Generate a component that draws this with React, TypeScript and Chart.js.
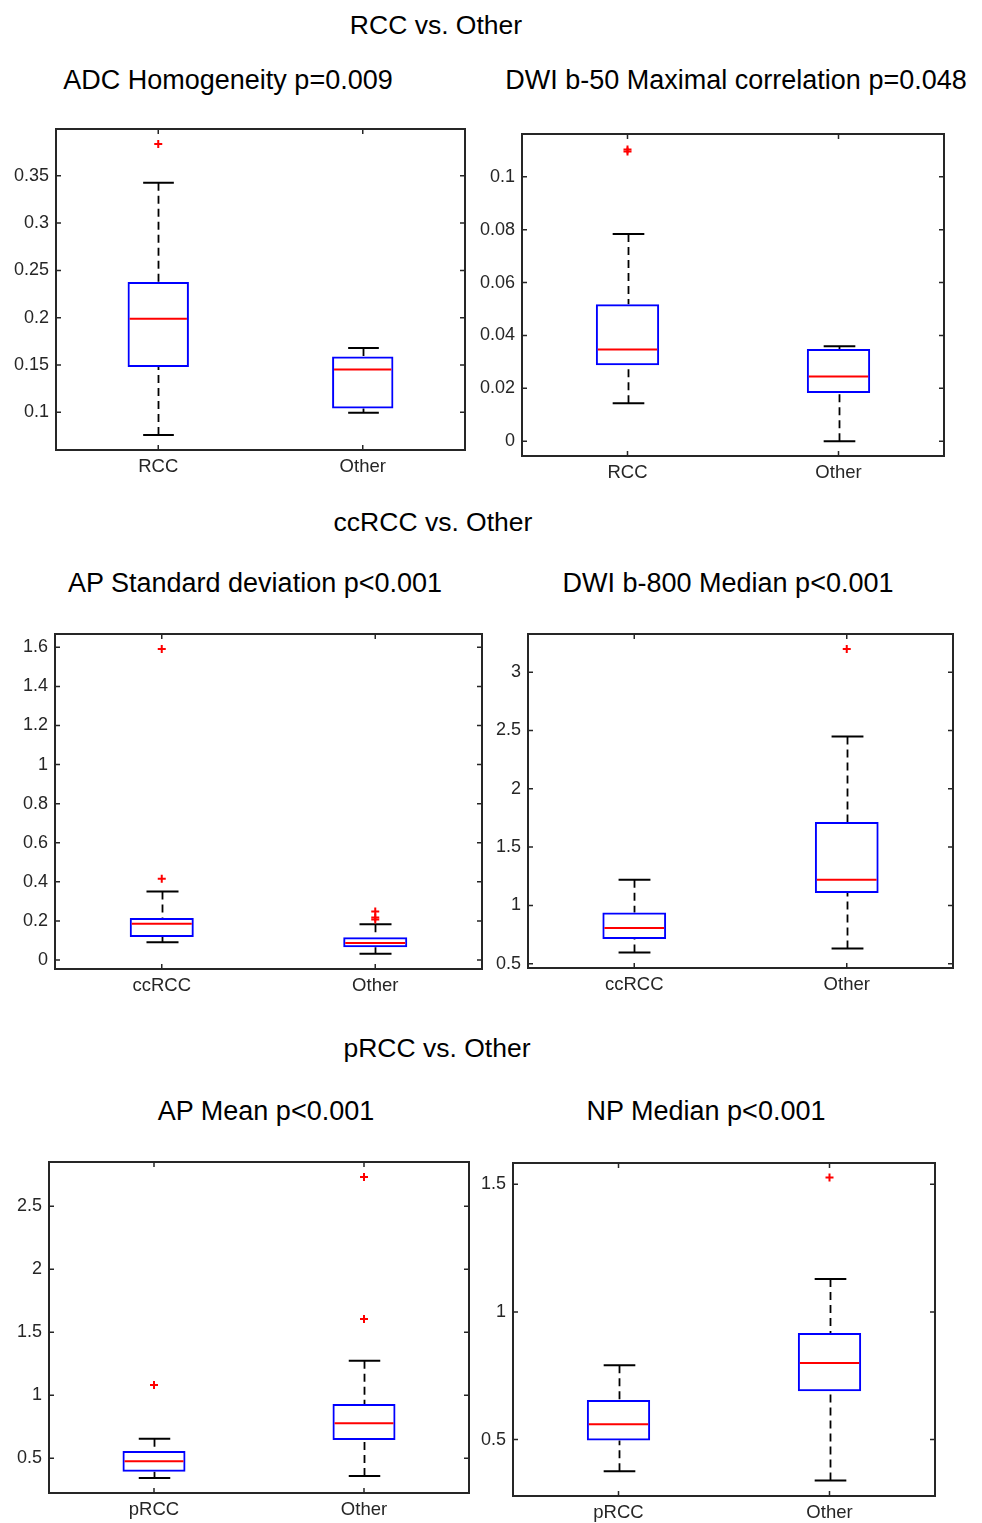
import React, { useEffect, useRef } from 'react';
import { Chart, registerables } from 'chart.js';

Chart.register(...registerables);

const FONT = '"Liberation Sans", Arial, Helvetica, sans-serif';

// ---------- Panel 1: ADC Homogeneity (RCC vs. Other) ----------
const adcCategories = ['RCC', 'Other'];
const adcLower = [0.076, 0.0996];
const adcQ1 = [0.148, 0.104];
const adcMedian = [0.1988, 0.1453];
const adcQ3 = [0.2376, 0.159];
const adcUpper = [0.3426, 0.168];
const adcOutliers = [[0.3835], []];
const adcTicks = [0.1, 0.15, 0.2, 0.25, 0.3, 0.35];
const adcTickLabels = ['0.1', '0.15', '0.2', '0.25', '0.3', '0.35'];
const adcRange = [0.0602, 0.3994];

// ---------- Panel 2: DWI b-50 Maximal correlation ----------
const b50Categories = ['RCC', 'Other'];
const b50Lower = [0.0144, 0];
const b50Q1 = [0.0287, 0.0182];
const b50Median = [0.0347, 0.0245];
const b50Q3 = [0.0518, 0.0349];
const b50Upper = [0.0784, 0.0359];
const b50Outliers = [[0.1103, 0.1096], []];
const b50Ticks = [0, 0.02, 0.04, 0.06, 0.08, 0.1];
const b50TickLabels = ['0', '0.02', '0.04', '0.06', '0.08', '0.1'];
const b50Range = [-0.0056, 0.1162];

// ---------- Panel 3: AP Standard deviation (ccRCC vs. Other) ----------
const apsdCategories = ['ccRCC', 'Other'];
const apsdLower = [0.0905, 0.032];
const apsdQ1 = [0.118, 0.065];
const apsdMedian = [0.186, 0.087];
const apsdQ3 = [0.215, 0.116];
const apsdUpper = [0.351, 0.183];
const apsdOutliers = [[1.591, 0.416], [0.248, 0.217, 0.207]];
const apsdTicks = [0, 0.2, 0.4, 0.6, 0.8, 1, 1.2, 1.4, 1.6];
const apsdTickLabels = ['0', '0.2', '0.4', '0.6', '0.8', '1', '1.2', '1.4', '1.6'];
const apsdRange = [-0.046, 1.668];

// ---------- Panel 4: DWI b-800 Median ----------
const b800Categories = ['ccRCC', 'Other'];
const b800Lower = [0.597, 0.631];
const b800Q1 = [0.712, 1.106];
const b800Median = [0.806, 1.22];
const b800Q3 = [0.94, 1.715];
const b800Upper = [1.22, 2.448];
const b800Outliers = [[], [3.2]];
const b800Ticks = [0.5, 1, 1.5, 2, 2.5, 3];
const b800TickLabels = ['0.5', '1', '1.5', '2', '2.5', '3'];
const b800Range = [0.463, 3.328];

// ---------- Panel 5: AP Mean (pRCC vs. Other) ----------
const apmCategories = ['pRCC', 'Other'];
const apmLower = [0.344, 0.36];
const apmQ1 = [0.394, 0.646];
const apmMedian = [0.476, 0.778];
const apmQ3 = [0.559, 0.932];
const apmUpper = [0.656, 1.275];
const apmOutliers = [[1.083], [2.733, 1.606]];
const apmTicks = [0.5, 1, 1.5, 2, 2.5];
const apmTickLabels = ['0.5', '1', '1.5', '2', '2.5'];
const apmRange = [0.225, 2.852];

// ---------- Panel 6: NP Median ----------
const npCategories = ['pRCC', 'Other'];
const npLower = [0.376, 0.34];
const npQ1 = [0.496, 0.689];
const npMedian = [0.56, 0.8];
const npQ3 = [0.655, 0.917];
const npUpper = [0.791, 1.129];
const npOutliers = [[], [1.526]];
const npTicks = [0.5, 1, 1.5];
const npTickLabels = ['0.5', '1', '1.5'];
const npRange = [0.279, 1.583];

// ---------- Titles ----------
const groupTitles = ['RCC vs. Other', 'ccRCC vs. Other', 'pRCC vs. Other'];
const panelTitles = [
  'ADC Homogeneity p=0.009',
  'DWI b-50 Maximal correlation p=0.048',
  'AP Standard deviation p<0.001',
  'DWI b-800 Median p<0.001',
  'AP Mean p<0.001',
  'NP Median p<0.001',
];

// ---------- Layout (positions only) ----------
const groupTitlePos = [
  { x: 436, y: 25 },
  { x: 433, y: 522 },
  { x: 437, y: 1048 },
];
const panelTitlePos = [
  { x: 228, y: 80 },
  { x: 736, y: 80 },
  { x: 255, y: 583 },
  { x: 728, y: 583 },
  { x: 266, y: 1111 },
  { x: 706, y: 1111 },
];
const plotRects = [
  { l: 56, t: 129, r: 465, b: 450 },
  { l: 522, t: 134, r: 944, b: 456 },
  { l: 55, t: 634, r: 482, b: 969 },
  { l: 528, t: 634, r: 953, b: 968 },
  { l: 49, t: 1162, r: 469, b: 1493 },
  { l: 513, t: 1163, r: 935, b: 1496 },
];

const panelData = [
  { categories: adcCategories, lo: adcLower, q1: adcQ1, med: adcMedian, q3: adcQ3, hi: adcUpper, out: adcOutliers, ticks: adcTicks, tickLabels: adcTickLabels, range: adcRange },
  { categories: b50Categories, lo: b50Lower, q1: b50Q1, med: b50Median, q3: b50Q3, hi: b50Upper, out: b50Outliers, ticks: b50Ticks, tickLabels: b50TickLabels, range: b50Range },
  { categories: apsdCategories, lo: apsdLower, q1: apsdQ1, med: apsdMedian, q3: apsdQ3, hi: apsdUpper, out: apsdOutliers, ticks: apsdTicks, tickLabels: apsdTickLabels, range: apsdRange },
  { categories: b800Categories, lo: b800Lower, q1: b800Q1, med: b800Median, q3: b800Q3, hi: b800Upper, out: b800Outliers, ticks: b800Ticks, tickLabels: b800TickLabels, range: b800Range },
  { categories: apmCategories, lo: apmLower, q1: apmQ1, med: apmMedian, q3: apmQ3, hi: apmUpper, out: apmOutliers, ticks: apmTicks, tickLabels: apmTickLabels, range: apmRange },
  { categories: npCategories, lo: npLower, q1: npQ1, med: npMedian, q3: npQ3, hi: npUpper, out: npOutliers, ticks: npTicks, tickLabels: npTickLabels, range: npRange },
];

const YW = 48; // y-axis area width
const PT = 10; // top padding
const PR = 10; // right padding
const XH = 40; // x-axis area height

const AXIS_COLOR = '#262626';
const BOX_FRACTION = 0.3;

function makeBoxPlugin(d: any) {
  return {
    id: 'matlabBox',
    beforeDatasetsDraw(chart: any) {
      const { ctx } = chart;
      const x = chart.scales.x;
      const y = chart.scales.y;
      const unit = x.getPixelForValue(1) - x.getPixelForValue(0);
      ctx.save();
      d.categories.forEach((_: string, i: number) => {
        const cx = Math.round(x.getPixelForValue(i)) + 0.5;
        ctx.strokeStyle = '#000';
        ctx.lineWidth = 1.8;
        ctx.setLineDash([8, 5]);
        ctx.beginPath();
        ctx.moveTo(cx, y.getPixelForValue(d.hi[i]));
        ctx.lineTo(cx, y.getPixelForValue(d.q3[i]));
        ctx.moveTo(cx, y.getPixelForValue(d.lo[i]));
        ctx.lineTo(cx, y.getPixelForValue(d.q1[i]));
        ctx.stroke();
        ctx.setLineDash([]);
        ctx.lineWidth = 2;
        const hw = unit * BOX_FRACTION / 4;
        ctx.beginPath();
        const yh = y.getPixelForValue(d.hi[i]);
        const yl = y.getPixelForValue(d.lo[i]);
        ctx.moveTo(cx - hw, yh);
        ctx.lineTo(cx + hw, yh);
        ctx.moveTo(cx - hw, yl);
        ctx.lineTo(cx + hw, yl);
        ctx.stroke();
      });
      ctx.restore();
    },
    afterDatasetsDraw(chart: any) {
      const { ctx } = chart;
      const x = chart.scales.x;
      const y = chart.scales.y;
      const unit = x.getPixelForValue(1) - x.getPixelForValue(0);
      ctx.save();
      ctx.strokeStyle = '#ff0000';
      ctx.lineWidth = 2;
      d.categories.forEach((_: string, i: number) => {
        const cx = x.getPixelForValue(i);
        const hw = unit * BOX_FRACTION / 2 - 2;
        const ym = y.getPixelForValue(d.med[i]);
        ctx.beginPath();
        ctx.moveTo(cx - hw, ym);
        ctx.lineTo(cx + hw, ym);
        ctx.stroke();
      });
      ctx.restore();
    },
    afterDraw(chart: any) {
      const { ctx, chartArea } = chart;
      const { left, top, right, bottom } = chartArea;
      const x = chart.scales.x;
      const y = chart.scales.y;
      ctx.save();
      ctx.strokeStyle = AXIS_COLOR;
      ctx.lineWidth = 2;
      ctx.strokeRect(left, top, right - left, bottom - top);
      ctx.lineWidth = 1.5;
      ctx.beginPath();
      const tl = 5;
      d.ticks.forEach((v: number) => {
        const py = y.getPixelForValue(v);
        ctx.moveTo(left, py);
        ctx.lineTo(left + tl, py);
        ctx.moveTo(right, py);
        ctx.lineTo(right - tl, py);
      });
      d.categories.forEach((_: string, i: number) => {
        const px = x.getPixelForValue(i);
        ctx.moveTo(px, bottom);
        ctx.lineTo(px, bottom - tl);
        ctx.moveTo(px, top);
        ctx.lineTo(px, top + tl);
      });
      ctx.stroke();
      ctx.restore();
    },
  };
}

function BoxPanel({ index }: { index: number }) {
  const ref = useRef<HTMLCanvasElement | null>(null);
  const rect = plotRects[index];
  const d = panelData[index];
  const cw = rect.r - rect.l + YW + PR;
  const ch = rect.b - rect.t + PT + XH;

  useEffect(() => {
    const canvas = ref.current;
    if (!canvas) return;
    const outlierData: any[] = [];
    d.out.forEach((vals: number[], i: number) => {
      vals.forEach((v) => outlierData.push({ x: d.categories[i], y: v }));
    });
    const chart = new Chart(canvas, {
      type: 'bar',
      data: {
        labels: d.categories,
        datasets: [
          {
            type: 'bar',
            data: d.categories.map((_: string, i: number) => [d.q1[i], d.q3[i]]),
            backgroundColor: 'rgba(0,0,0,0)',
            borderColor: '#0000ff',
            borderWidth: 2,
            borderSkipped: false,
            barPercentage: BOX_FRACTION,
            categoryPercentage: 1,
          } as any,
          {
            type: 'line',
            data: outlierData,
            showLine: false,
            pointStyle: 'cross',
            pointRadius: 4,
            pointBorderWidth: 2,
            borderColor: '#ff0000',
            pointBorderColor: '#ff0000',
            pointBackgroundColor: '#ff0000',
          } as any,
        ],
      },
      options: {
        responsive: false,
        animation: false,
        devicePixelRatio: 1,
        layout: { padding: { left: 0, right: PR, top: PT, bottom: 0 } },
        plugins: {
          legend: { display: false },
          tooltip: { enabled: false },
          title: { display: false },
        },
        scales: {
          x: {
            type: 'category',
            offset: true,
            grid: { display: false, drawTicks: false },
            border: { display: false },
            ticks: {
              color: AXIS_COLOR,
              font: { family: FONT, size: 18.5 },
              padding: 6,
              maxRotation: 0,
            },
            afterFit(s: any) {
              s.height = XH;
              s.paddingLeft = 0;
              s.paddingRight = 0;
            },
          },
          y: {
            type: 'linear',
            min: d.range[0],
            max: d.range[1],
            grid: { display: false, drawTicks: false },
            border: { display: false },
            ticks: {
              color: AXIS_COLOR,
              font: { family: FONT, size: 18 },
              padding: 7,
              autoSkip: false,
              callback: (_v: any, i: number) => d.tickLabels[i],
            },
            afterBuildTicks(s: any) {
              s.ticks = d.ticks.map((v: number) => ({ value: v }));
            },
            afterFit(s: any) {
              s.width = YW;
              s.paddingTop = 0;
              s.paddingBottom = 0;
            },
          },
        },
      } as any,
      plugins: [makeBoxPlugin(d)],
    });
    return () => chart.destroy();
  }, []);

  return (
    <canvas
      ref={ref}
      width={cw}
      height={ch}
      style={{
        position: 'absolute',
        left: rect.l - YW,
        top: rect.t - PT,
        width: cw,
        height: ch,
      }}
    />
  );
}

const titleStyle: React.CSSProperties = {
  position: 'absolute',
  transform: 'translate(-50%, -50%)',
  whiteSpace: 'nowrap',
  fontFamily: FONT,
  fontSize: 27,
  lineHeight: 1,
  color: '#000',
};

export default function App() {
  return (
    <div
      style={{
        position: 'absolute',
        left: 0,
        top: 0,
        width: 982,
        height: 1523,
        background: '#fff',
        overflow: 'hidden',
      }}
    >
      {groupTitles.map((t, i) => (
        <div key={'g' + i} style={{ ...titleStyle, fontSize: 26.5, left: groupTitlePos[i].x, top: groupTitlePos[i].y }}>
          {t}
        </div>
      ))}
      {panelTitles.map((t, i) => (
        <div key={'p' + i} style={{ ...titleStyle, left: panelTitlePos[i].x, top: panelTitlePos[i].y }}>
          {t}
        </div>
      ))}
      {panelData.map((_, i) => (
        <BoxPanel key={i} index={i} />
      ))}
    </div>
  );
}
